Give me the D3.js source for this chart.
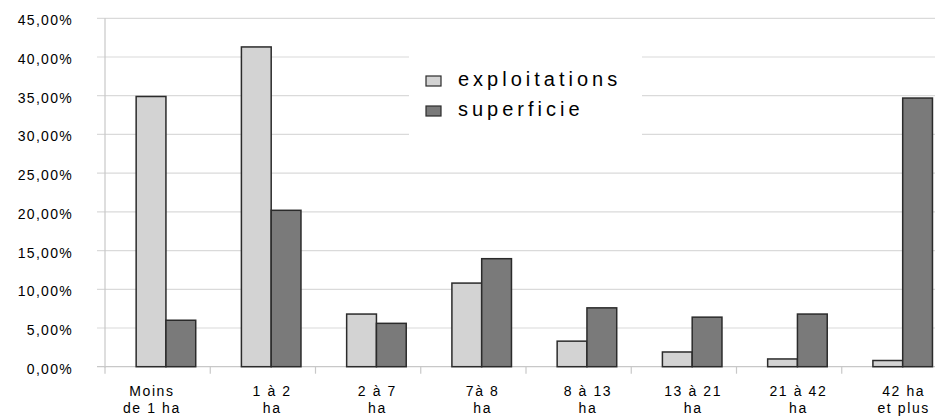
<!DOCTYPE html>
<html><head><meta charset="utf-8">
<script src="https://cdn.jsdelivr.net/npm/d3@7"></script>
<style>body{margin:0;background:#fff}svg{display:block}</style>
</head><body>
<svg id="c" width="935" height="416"></svg>
<script>
const categories = ["Moins de 1 ha","1 à 2 ha","2 à 7 ha","7à 8 ha","8 à 13 ha","13 à 21 ha","21 à 42 ha","42 ha et plus"];
const categoryLines = [["Moins","de 1 ha"],["1 à 2","ha"],["2 à 7","ha"],["7à 8","ha"],["8 à 13","ha"],["13 à 21","ha"],["21 à 42","ha"],["42 ha","et plus"]];
const exploitations = [34.9, 41.3, 6.8, 10.8, 3.3, 1.9, 1.0, 0.8];
const superficie = [6.0, 20.2, 5.6, 13.95, 7.6, 6.4, 6.8, 34.7];
const seriesNames = ["exploitations","superficie"];
const yTicks = [0,5,10,15,20,25,30,35,40,45];

const svg = d3.select("#c");
const font = "'Liberation Sans', Arial, sans-serif";
const x = d3.scaleBand().domain(categories).range([105, 947]).padding(0);
const y = d3.scaleLinear().domain([0,45]).range([366.7, 18.3]);
const bw = x.bandwidth();
const fmt = v => d3.format(".2f")(v).replace(".", ",") + "%";

// gridlines
svg.append("g").selectAll("line").data(yTicks).join("line")
  .attr("x1", 97).attr("x2", 947)
  .attr("y1", d => y(d)).attr("y2", d => y(d))
  .attr("stroke", d => d === 0 ? "#c8c8c8" : "#dadada").attr("stroke-width", 1.2);

// y axis line
svg.append("line").attr("x1",105).attr("x2",105).attr("y1",y(45)).attr("y2",y(0)+1)
  .attr("stroke","#c8c8c8").attr("stroke-width",1.2);

// bottom ticks at category boundaries
svg.append("g").selectAll("line").data(categories).join("line")
  .attr("x1", d => x(d)).attr("x2", d => x(d))
  .attr("y1", y(0)).attr("y2", y(0)+7)
  .attr("stroke","#c8c8c8").attr("stroke-width",1.2);

// y labels
svg.append("g").selectAll("text").data(yTicks).join("text")
  .attr("x", 73).attr("y", d => y(d) + 7)
  .attr("text-anchor","end")
  .attr("font-family", font).attr("font-size", 14).attr("letter-spacing", 1.3)
  .attr("fill","#000")
  .text(fmt);

// legend background (covers gridlines)
svg.append("rect").attr("x",409).attr("y",30).attr("width",233).attr("height",118).attr("fill","#fff");

// bars
const off1 = bw*0.296, bwid = bw*0.283;
const g = svg.append("g");
g.selectAll("rect.e").data(categories).join("rect").attr("class","e")
  .attr("x", d => x(d)+off1).attr("width", bwid)
  .attr("y", (d,i) => y(exploitations[i])).attr("height", (d,i) => y(0)-y(exploitations[i]))
  .attr("fill","#d3d3d3").attr("stroke","#2b2b2b").attr("stroke-width",1.5);
g.selectAll("rect.s").data(categories).join("rect").attr("class","s")
  .attr("x", d => x(d)+off1+bwid).attr("width", bwid)
  .attr("y", (d,i) => y(superficie[i])).attr("height", (d,i) => y(0)-y(superficie[i]))
  .attr("fill","#7a7a7a").attr("stroke","#2b2b2b").attr("stroke-width",1.5);

// category labels
const lab = svg.append("g").selectAll("text").data(categories).join("text")
  .attr("text-anchor","middle")
  .attr("font-family", font).attr("font-size", 14).attr("letter-spacing", 1.6)
  .attr("fill","#000");
lab.each(function(d,i){
  const t = d3.select(this);
  const cx = x(d) + off1 + bwid + 1 - (i === 0 ? 15 : 0);
  categoryLines[i].forEach((ln,j) => {
    t.append("tspan").attr("x", cx).attr("y", j === 0 ? 396 : 413).text(ln);
  });
});

// legend
const leg = svg.append("g");
const legFill = ["#d3d3d3","#7a7a7a"];
seriesNames.forEach((n,i) => {
  const yy = 76 + i*30;
  leg.append("rect").attr("x",426).attr("y",yy).attr("width",15).attr("height",10)
    .attr("fill",legFill[i]).attr("stroke","#2b2b2b").attr("stroke-width",1.2);
  leg.append("text").attr("x",458).attr("y",yy+9.5)
    .attr("font-family", font).attr("font-size", 20).attr("letter-spacing", 4)
    .attr("fill","#000").text(n);
});
</script>
</body></html>
